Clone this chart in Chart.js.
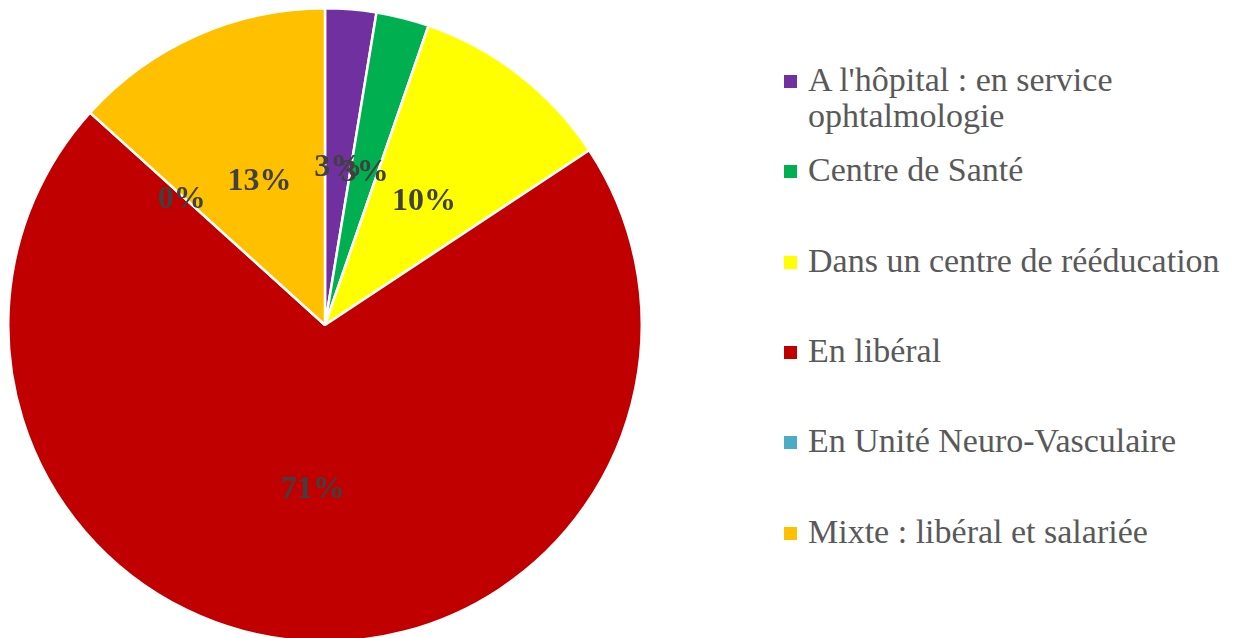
<!DOCTYPE html>
<html>
<head>
<meta charset="utf-8">
<script src="https://cdn.jsdelivr.net/npm/chart.js@4/dist/chart.umd.min.js"></script>
<style>
  html, body { margin: 0; padding: 0; background: #fff; width: 1241px; height: 638px; overflow: hidden; position: relative; }
  #pieBox { position: absolute; left: 7px; top: 7px; width: 636px; height: 636px; }
  .lg { position: absolute; left: 784px; font-family: "Liberation Serif", serif; font-size: 34px; color: #595959; line-height: 36px; }
  .lg .sw { position: absolute; left: 0; top: -6px; width: 13px; height: 13px; }
  .lg .tx { position: absolute; left: 24px; top: -19px; width: 430px; white-space: normal; }
</style>
</head>
<body>
<div id="pieBox"><canvas id="c"></canvas></div>
<div id="legend"></div>
<script>
const categories = [
  "A l'hôpital : en service ophtalmologie",
  "Centre de Santé",
  "Dans un centre de rééducation",
  "En libéral",
  "En Unité Neuro-Vasculaire",
  "Mixte : libéral et salariée"
];
const values = [2.6, 2.7, 10.4, 71.0, 0, 13.3];
const colors = ["#7030A0", "#00B050", "#FFFF00", "#C00000", "#4BACC6", "#FFC000"];

const total = values.reduce((a, b) => a + b, 0);
const pctLabels = values.map(v => Math.round(v / total * 100) + "%");

const labelPlugin = {
  id: 'pieLabels',
  afterDatasetsDraw(chart) {
    const ctx = chart.ctx;
    const meta = chart.getDatasetMeta(0);
    ctx.save();
    ctx.font = 'bold 32px "Liberation Serif", serif';
    ctx.fillStyle = '#404040';
    ctx.textAlign = 'center';
    ctx.textBaseline = 'middle';
    meta.data.forEach((arc, i) => {
      const p = arc.getProps(['x', 'y', 'startAngle', 'endAngle', 'outerRadius'], true);
      const mid = (p.startAngle + p.endAngle) / 2;
      const r = p.outerRadius * (values[i] === 0 ? 0.61 : 0.51);
      ctx.fillText(pctLabels[i], p.x + Math.cos(mid) * r, p.y + Math.sin(mid) * r + 4);
    });
    ctx.restore();
  }
};

new Chart(document.getElementById('c'), {
  type: 'pie',
  data: {
    labels: categories,
    datasets: [{
      data: values,
      backgroundColor: colors,
      borderColor: '#ffffff',
      borderWidth: 2.5
    }]
  },
  options: {
    responsive: true,
    maintainAspectRatio: false,
    animation: false,
    layout: { padding: 0 },
    plugins: {
      legend: { display: false },
      tooltip: { enabled: false }
    }
  },
  plugins: [labelPlugin]
});

// HTML legend
const lg = document.getElementById('legend');
categories.forEach((name, i) => {
  const d = document.createElement('div');
  d.className = 'lg';
  d.style.top = (81 + 90.3 * i) + 'px';
  const sw = document.createElement('div');
  sw.className = 'sw';
  sw.style.background = colors[i];
  const tx = document.createElement('div');
  tx.className = 'tx';
  tx.textContent = name;
  d.appendChild(sw);
  d.appendChild(tx);
  lg.appendChild(d);
});
</script>
</body>
</html>
